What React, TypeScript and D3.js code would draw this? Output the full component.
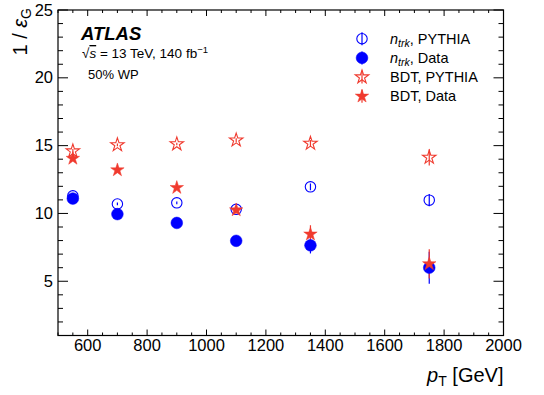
import * as d3 from 'd3';

// pT bin centres [GeV]
const ptBins = [550, 700, 900, 1100, 1350, 1750];

// 1 / eps_G
const ntrkPythia = [11.3, 10.7, 10.78, 10.3, 11.96, 10.98];
const ntrkPythiaErr = [0.1, 0.1, 0.1, 0.2, 0.25, 0.45];
const ntrkData = [11.1, 9.95, 9.3, 7.98, 7.65, 6.0];
const ntrkDataErr = [0.1, 0.1, 0.15, 0.2, 0.6, 1.18];
const bdtPythia = [14.6, 15.05, 15.12, 15.4, 15.16, 14.13];
const bdtPythiaErr = [0.15, 0.1, 0.1, 0.15, 0.25, 0.6];
const bdtData = [14.05, 13.2, 11.9, 10.25, 8.47, 6.28];
const bdtDataErr = [0.1, 0.1, 0.15, 0.25, 0.66, 1.08];

const xTicks = [600, 800, 1000, 1200, 1400, 1600, 1800, 2000];
const yTicks = [5, 10, 15, 20, 25];

const W = 544;
const H = 395;
const left = 58;
const right = 503.5;
const top = 10;
const bottom = 335.5;

const BLUE = '#0000ff';
const RED = '#f03a2e';
const FONT = '"Liberation Sans", Arial, Helvetica, sans-serif';

const x = d3.scaleLinear().domain([500, 2000]).range([left, right]);
const y = d3.scaleLinear().domain([1, 25]).range([bottom, top]);

const circlePath = d3.symbol(d3.symbolCircle, 108)() as string;
const openCirclePath = d3.symbol(d3.symbolCircle, 85)() as string;
const starPath = d3.symbol(d3.symbolStar, 56)() as string;

type Series = {
  vals: number[];
  errs: number[];
  path: string;
  color: string;
  open: boolean;
};

const series: Series[] = [
  { vals: ntrkPythia, errs: ntrkPythiaErr, path: openCirclePath, color: BLUE, open: true },
  { vals: ntrkData, errs: ntrkDataErr, path: circlePath, color: BLUE, open: false },
  { vals: bdtPythia, errs: bdtPythiaErr, path: starPath, color: RED, open: true },
  { vals: bdtData, errs: bdtDataErr, path: starPath, color: RED, open: false },
];

const Marker = ({ s, cx, cy }: { s: Series; cx: number; cy: number }) => (
  <path
    d={s.path}
    transform={`translate(${cx},${cy})`}
    fill={s.open ? 'none' : s.color}
    stroke={s.color}
    strokeWidth={s.open ? 1.1 : 0.5}
  />
);

export default function App() {
  const xMinor = d3.range(500, 2001, 50);
  const yMinor = d3.range(1, 26, 1);

  const legend = [
    { s: series[0], label: 'PYTHIA', ntrk: true },
    { s: series[1], label: 'Data', ntrk: true },
    { s: series[2], label: 'BDT, PYTHIA', ntrk: false },
    { s: series[3], label: 'BDT, Data', ntrk: false },
  ];

  return (
    <svg
      width={W}
      height={H}
      style={{ position: 'absolute', left: 0, top: 0, background: '#fff' }}
      fontFamily={FONT}
    >
      <rect width={W} height={H} fill="#fff" />

      {/* ticks on all four sides */}
      <g stroke="#000" strokeWidth={1}>
        {xMinor.map((v) => {
          const major = v % 200 === 0;
          const len = major ? 6 : 3;
          return (
            <g key={'x' + v}>
              <line x1={x(v)} x2={x(v)} y1={bottom} y2={bottom - len} />
              <line x1={x(v)} x2={x(v)} y1={top} y2={top + len} />
            </g>
          );
        })}
        {yMinor.map((v) => {
          const major = v % 5 === 0;
          const len = major ? 10 : 5;
          return (
            <g key={'y' + v}>
              <line x1={left} x2={left + len} y1={y(v)} y2={y(v)} />
              <line x1={right} x2={right - len} y1={y(v)} y2={y(v)} />
            </g>
          );
        })}
      </g>
      <rect
        x={left}
        y={top}
        width={right - left}
        height={bottom - top}
        fill="none"
        stroke="#000"
        strokeWidth={1.2}
      />

      {/* tick labels */}
      <g fontSize={16.5} fill="#000">
        {xTicks.map((v) => (
          <text key={v} x={x(v)} y={351} textAnchor="middle">
            {v}
          </text>
        ))}
        {yTicks.map((v) => (
          <text key={v} x={left - 5} y={y(v) + 5.5} textAnchor="end">
            {v}
          </text>
        ))}
      </g>

      {/* axis titles */}
      <text x={right} y={382} textAnchor="end" fontSize={20}>
        <tspan fontStyle="italic">p</tspan>
        <tspan fontSize={14} dy={4}>T</tspan>
        <tspan dy={-4}> [GeV]</tspan>
      </text>
      <text transform={`translate(27,${top - 2}) rotate(-90)`} textAnchor="end" fontSize={20}>
        <tspan>1 / </tspan>
        <tspan fontStyle="italic">ε</tspan>
        <tspan fontSize={14} dy={4}>G</tspan>
      </text>

      {/* error bars */}
      {series.map((s, si) => (
        <g key={'e' + si} stroke={s.color} strokeWidth={1.2}>
          {ptBins.map((pt, i) => (
            <line
              key={i}
              x1={x(pt)}
              x2={x(pt)}
              y1={y(s.vals[i] - s.errs[i])}
              y2={y(s.vals[i] + s.errs[i])}
            />
          ))}
        </g>
      ))}

      {/* markers */}
      {series.map((s, si) => (
        <g key={'m' + si}>
          {ptBins.map((pt, i) => (
            <Marker key={i} s={s} cx={x(pt)} cy={y(s.vals[i])} />
          ))}
        </g>
      ))}

      {/* ATLAS label */}
      <text x={81} y={40} fontSize={18.5} fontWeight="bold" fontStyle="italic">
        ATLAS
      </text>
      <text x={82} y={58} fontSize={13.5}>
        <tspan>√</tspan>
        <tspan fontStyle="italic" textDecoration="overline">s</tspan>
        <tspan> = 13 TeV, 140 fb</tspan>
        <tspan fontSize={9.5} dy={-5}>−1</tspan>
      </text>
      <text x={88} y={79} fontSize={13}>
        50% WP
      </text>

      {/* legend */}
      {legend.map((d, i) => {
        const cy = 38.7 + i * 19.2;
        return (
          <g key={'l' + i}>
            <line x1={362} x2={362} y1={cy - 6.5} y2={cy + 6.5} stroke={d.s.color} strokeWidth={1.2} />
            <Marker s={d.s} cx={362} cy={cy} />
            <text x={390} y={cy + 5} fontSize={14.5}>
              {d.ntrk ? (
                <>
                  <tspan fontStyle="italic">n</tspan>
                  <tspan fontStyle="italic" fontSize={10.5} dy={3}>trk</tspan>
                  <tspan dy={-3}>, {d.label}</tspan>
                </>
              ) : (
                d.label
              )}
            </text>
          </g>
        );
      })}
    </svg>
  );
}
